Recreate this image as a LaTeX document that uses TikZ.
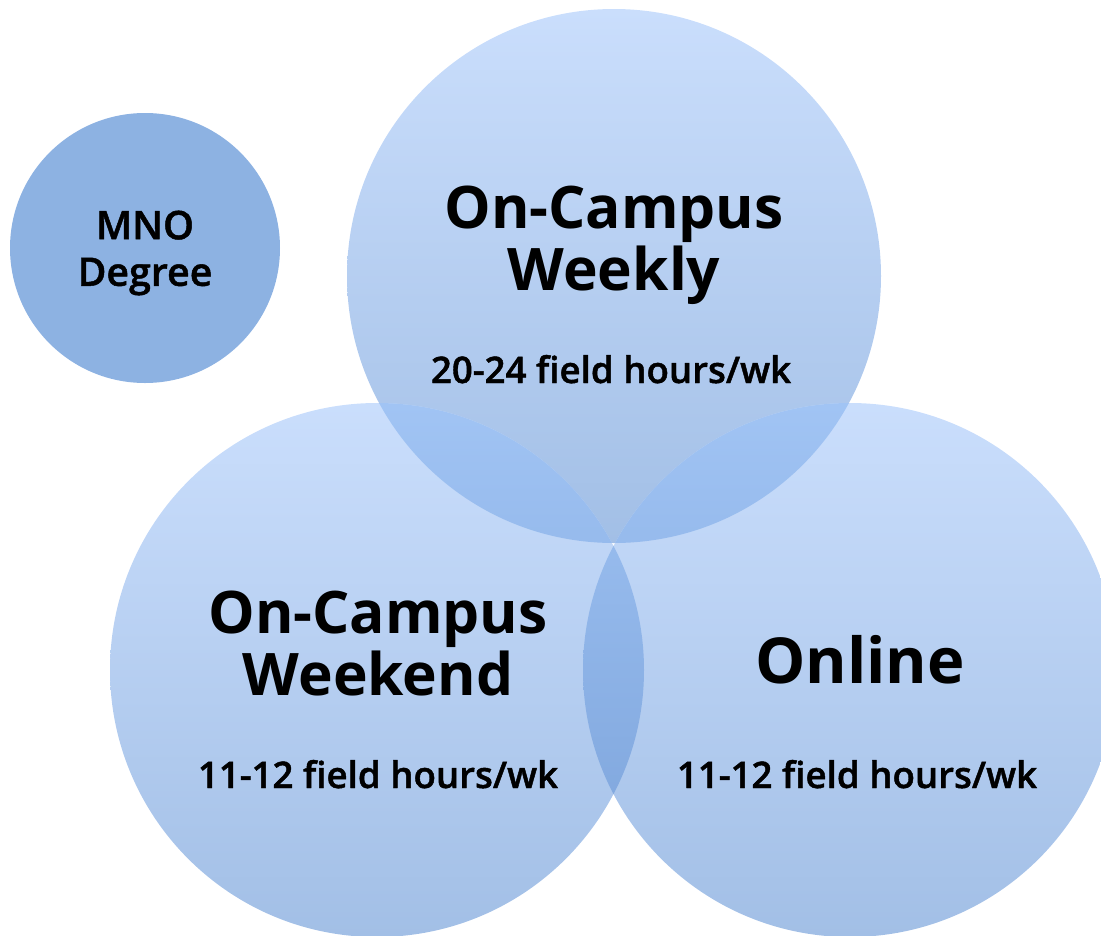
\documentclass[tikz,border=0pt]{standalone}
\usepackage{fontspec}
\setmainfont{Open Sans}
\newfontfamily\semifont{Open Sans Semibold}[FakeBold=1.2]
\usepackage{xcolor}
\usepackage{tikz}
\usetikzlibrary{positioning}
\definecolor{circtop}{HTML}{CADEFC}
\definecolor{circbot}{HTML}{A2BFE6}
\definecolor{lenstop}{HTML}{A1C4F4}
\definecolor{lensbot}{HTML}{78A0D8}
\definecolor{degreeblue}{HTML}{8DB2E2}
\tikzstyle{venn} = [circle, minimum size=400.5pt, inner sep=0pt, outer sep=0pt,
  top color=circtop, bottom color=circbot, draw=none]
\tikzstyle{lens} = [top color=lenstop, bottom color=lensbot, draw=none]
\tikzstyle{degree} = [circle, minimum size=202.5pt, inner sep=0pt, fill=degreeblue]
\tikzstyle{degreetext} = [align=center, inner sep=0pt, font=\fontsize{29.5}{35}\selectfont\semifont]
\tikzstyle{title} = [align=center, inner sep=0pt, font=\fontsize{44}{46.5}\selectfont\bfseries]
\tikzstyle{hours} = [inner sep=0pt, anchor=base, font=\fontsize{27.5}{32}\selectfont\semifont]

\begin{document}
\begin{tikzpicture}[x=0.75pt, y=-0.75pt]
  \clip (0,0) rectangle (1101,936);

  % The three delivery formats
  \node (weekly)  [venn] at (614,276) {};
  \node (weekend) [venn] at (377,670) {};
  \node (online)  [venn] at (850,670) {};

  % Overlaps
  \begin{scope}
    \clip (weekly.center) circle[radius=267];
    \path[lens] (weekend.center) circle[radius=267];
    \path[lens] (online.center) circle[radius=267];
  \end{scope}
  \begin{scope}
    \clip (weekend.center) circle[radius=267];
    \path[lens] (online.center) circle[radius=267];
  \end{scope}

  % Degree bubble
  \node (mno) [degree] at (145,248) {};
  \node (mnotext) [degreetext] at (145,253) {MNO\\Degree};

  % Labels
  \node (weeklytitle)  [title] at (614,245) {On-Campus\\Weekly};
  \node (weekendtitle) [title] at (378,644) {On-Campus\\Weekend};
  \node (onlinetitle)  [title, anchor=base, font=\fontsize{47.5}{50}\selectfont\bfseries]
    at (860,683) {Online};

  \node (weeklyhours)  [hours] at (611,383) {20-24 field hours/wk};
  \node (weekendhours) [hours] at (378,788) {11-12 field hours/wk};
  \node (onlinehours)  [hours] at (857,788) {11-12 field hours/wk};
\end{tikzpicture}
\end{document}
